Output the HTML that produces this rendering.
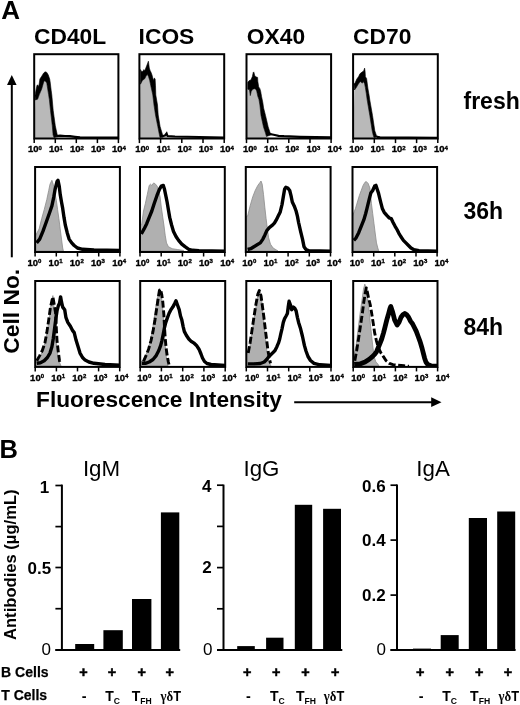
<!DOCTYPE html><html><head><meta charset="utf-8"><title>Figure</title><style>html,body{margin:0;padding:0;background:#fff;}svg{display:block;}</style></head><body>
<svg width="520" height="705" viewBox="0 0 520 705" font-family='"Liberation Sans", Arial, Helvetica, sans-serif'>
<rect width="520" height="705" fill="#fff"/>
<text x="1.3" y="18.9" font-size="26" font-weight="bold">A</text>
<text x="-0.5" y="457.7" font-size="25.5" font-weight="bold">B</text>
<text x="34.0" y="44.2" font-size="22.8" font-weight="bold">CD40L</text>
<text x="138.6" y="44.2" font-size="22.8" font-weight="bold">ICOS</text>
<text x="246.8" y="44.2" font-size="22.8" font-weight="bold">OX40</text>
<text x="353.1" y="44.2" font-size="22.8" font-weight="bold">CD70</text>
<text x="463.5" y="109.3" font-size="23" font-weight="bold">fresh</text>
<text x="463.5" y="219.3" font-size="23" font-weight="bold">36h</text>
<text x="463.5" y="334.9" font-size="23" font-weight="bold">84h</text>
<line x1="11.8" y1="84" x2="11.8" y2="257.3" stroke="#000" stroke-width="2"/>
<polygon points="11.8,75 7,85 16.6,85" fill="#000"/>
<text transform="translate(19.1,353.7) rotate(-90)" font-size="22.8" font-weight="bold">Cell No.</text>
<text x="36.1" y="406.5" font-size="22.7" font-weight="bold">Fluorescence Intensity</text>
<line x1="294.2" y1="402.2" x2="432" y2="402.2" stroke="#000" stroke-width="2"/>
<polygon points="441.5,402.2 431.2,397.3 431.2,407" fill="#000"/>
<clipPath id="c00"><rect x="34.2" y="54.2" width="84.2" height="84.3"/></clipPath>
<g clip-path="url(#c00)">
<polygon points="35.3,100.0 37.6,99.2 39.3,94.6 41.7,88.9 43.7,81.9 44.5,80.8 45.7,81.4 46.8,83.1 47.7,88.9 48.6,94.6 49.4,99.8 50.5,110.4 52.3,125.8 53.1,135.0 54.0,137.5 54.0,139.6 34.2,139.6" fill="#b9b9b9"/>
<polygon points="35.0,95.5 36.2,89.0 37.0,85.4 37.6,84.8 38.8,86.5 39.9,79.0 41.7,76.2 43.7,73.0 45.1,71.8 46.8,72.4 48.3,75.0 49.7,79.0 50.3,83.1 51.2,90.6 51.8,95.0 53.2,110.4 55.3,125.8 57.3,135.0 58.5,136.5 54.0,137.5 53.1,135.0 52.3,125.8 50.5,110.4 49.4,99.8 48.6,94.6 47.7,88.9 46.8,83.1 45.7,81.4 44.5,80.8 43.7,81.9 41.7,88.9 39.3,94.6 37.6,99.2 35.3,100.0" fill="#000" stroke="#000" stroke-width="0.6" stroke-linejoin="round"/>
<polyline points="56.5,136.0 60.0,135.7 65.0,136.0 70.0,136.2 75.0,136.8 80.0,137.3 119.0,137.7" fill="none" stroke="#000" stroke-width="2.2"/>
</g>
<rect x="34.2" y="54.2" width="84.2" height="84.3" fill="none" stroke="#000" stroke-width="2"/>
<line x1="34.2" y1="138.6" x2="34.2" y2="143.1" stroke="#000" stroke-width="1.5"/>
<text x="27.9" y="152.4" font-size="9.5" font-weight="bold" stroke="#000" stroke-width="0.35">10<tspan font-size="6" dy="-2.5">0</tspan></text>
<line x1="55.3" y1="138.6" x2="55.3" y2="143.1" stroke="#000" stroke-width="1.5"/>
<text x="48.9" y="152.4" font-size="9.5" font-weight="bold" stroke="#000" stroke-width="0.35">10<tspan font-size="6" dy="-2.5">1</tspan></text>
<line x1="76.3" y1="138.6" x2="76.3" y2="143.1" stroke="#000" stroke-width="1.5"/>
<text x="69.9" y="152.4" font-size="9.5" font-weight="bold" stroke="#000" stroke-width="0.35">10<tspan font-size="6" dy="-2.5">2</tspan></text>
<line x1="97.4" y1="138.6" x2="97.4" y2="143.1" stroke="#000" stroke-width="1.5"/>
<text x="91.0" y="152.4" font-size="9.5" font-weight="bold" stroke="#000" stroke-width="0.35">10<tspan font-size="6" dy="-2.5">3</tspan></text>
<line x1="118.4" y1="138.6" x2="118.4" y2="143.1" stroke="#000" stroke-width="1.5"/>
<text x="112.0" y="152.4" font-size="9.5" font-weight="bold" stroke="#000" stroke-width="0.35">10<tspan font-size="6" dy="-2.5">4</tspan></text>
<clipPath id="c01"><rect x="139.4" y="54.2" width="84.8" height="84.3"/></clipPath>
<g clip-path="url(#c01)">
<polygon points="140.5,84.2 142.4,80.4 144.7,78.8 146.2,75.8 147.4,74.6 148.5,76.5 149.7,80.4 150.8,85.8 152.0,91.2 152.8,95.0 154.0,105.0 155.5,115.0 157.8,126.5 159.3,134.2 160.0,137.5 160.0,139.6 139.4,139.6" fill="#b9b9b9"/>
<polygon points="140.5,69.6 141.2,71.2 142.8,71.5 143.9,69.6 144.7,70.8 145.8,68.1 147.0,65.0 148.4,61.2 148.9,65.0 149.3,68.1 150.1,70.4 151.2,72.7 152.0,75.0 152.8,78.1 153.5,80.4 154.3,78.1 155.1,78.8 155.5,85.8 155.8,95.0 157.5,105.0 158.2,115.0 160.1,126.5 162.4,134.2 163.5,137.0 160.0,137.5 159.3,134.2 157.8,126.5 155.5,115.0 154.0,105.0 152.8,95.0 152.0,91.2 150.8,85.8 149.7,80.4 148.5,76.5 147.4,74.6 146.2,75.8 144.7,78.8 142.4,80.4 140.5,84.2" fill="#000" stroke="#000" stroke-width="0.6" stroke-linejoin="round"/>
<polyline points="162.0,136.3 165.0,135.5 166.6,133.5 167.5,136.0 175.0,136.5 224.0,137.5" fill="none" stroke="#000" stroke-width="2.2"/>
</g>
<rect x="139.4" y="54.2" width="84.8" height="84.3" fill="none" stroke="#000" stroke-width="2"/>
<line x1="139.4" y1="138.6" x2="139.4" y2="143.1" stroke="#000" stroke-width="1.5"/>
<text x="135.2" y="152.4" font-size="9.5" font-weight="bold" stroke="#000" stroke-width="0.35">10<tspan font-size="6" dy="-2.5">0</tspan></text>
<line x1="160.6" y1="138.6" x2="160.6" y2="143.1" stroke="#000" stroke-width="1.5"/>
<text x="156.4" y="152.4" font-size="9.5" font-weight="bold" stroke="#000" stroke-width="0.35">10<tspan font-size="6" dy="-2.5">1</tspan></text>
<line x1="181.8" y1="138.6" x2="181.8" y2="143.1" stroke="#000" stroke-width="1.5"/>
<text x="177.6" y="152.4" font-size="9.5" font-weight="bold" stroke="#000" stroke-width="0.35">10<tspan font-size="6" dy="-2.5">2</tspan></text>
<line x1="203.0" y1="138.6" x2="203.0" y2="143.1" stroke="#000" stroke-width="1.5"/>
<text x="198.8" y="152.4" font-size="9.5" font-weight="bold" stroke="#000" stroke-width="0.35">10<tspan font-size="6" dy="-2.5">3</tspan></text>
<line x1="224.2" y1="138.6" x2="224.2" y2="143.1" stroke="#000" stroke-width="1.5"/>
<text x="220.0" y="152.4" font-size="9.5" font-weight="bold" stroke="#000" stroke-width="0.35">10<tspan font-size="6" dy="-2.5">4</tspan></text>
<clipPath id="c02"><rect x="246.5" y="54.2" width="84.6" height="84.3"/></clipPath>
<g clip-path="url(#c02)">
<polygon points="247.8,89.2 249.5,89.8 250.3,95.6 251.2,91.5 252.7,89.2 254.4,88.7 255.8,89.2 256.7,91.0 257.8,96.2 259.0,99.6 259.9,105.0 261.0,115.4 263.5,126.9 265.5,133.1 266.5,136.5 266.5,139.6 246.5,139.6" fill="#b9b9b9"/>
<polygon points="247.8,82.3 249.2,80.6 250.9,80.0 252.4,76.5 253.2,72.5 253.8,71.9 254.7,75.4 255.8,76.8 257.6,77.4 257.8,81.2 258.7,86.9 259.9,88.7 260.7,91.5 261.6,96.7 262.8,102.5 263.6,108.0 265.5,115.4 268.2,126.9 270.2,133.1 272.0,134.5 266.5,136.5 265.5,133.1 263.5,126.9 261.0,115.4 259.9,105.0 259.0,99.6 257.8,96.2 256.7,91.0 255.8,89.2 254.4,88.7 252.7,89.2 251.2,91.5 250.3,95.6 249.5,89.8 247.8,89.2" fill="#000" stroke="#000" stroke-width="0.6" stroke-linejoin="round"/>
<polyline points="270.0,134.0 274.8,135.0 278.6,135.8 284.0,136.2 300.0,136.8 331.0,137.3" fill="none" stroke="#000" stroke-width="2.2"/>
</g>
<rect x="246.5" y="54.2" width="84.6" height="84.3" fill="none" stroke="#000" stroke-width="2"/>
<line x1="246.5" y1="138.6" x2="246.5" y2="143.1" stroke="#000" stroke-width="1.5"/>
<text x="242.9" y="152.4" font-size="9.5" font-weight="bold" stroke="#000" stroke-width="0.35">10<tspan font-size="6" dy="-2.5">0</tspan></text>
<line x1="267.7" y1="138.6" x2="267.7" y2="143.1" stroke="#000" stroke-width="1.5"/>
<text x="264.1" y="152.4" font-size="9.5" font-weight="bold" stroke="#000" stroke-width="0.35">10<tspan font-size="6" dy="-2.5">1</tspan></text>
<line x1="288.8" y1="138.6" x2="288.8" y2="143.1" stroke="#000" stroke-width="1.5"/>
<text x="285.2" y="152.4" font-size="9.5" font-weight="bold" stroke="#000" stroke-width="0.35">10<tspan font-size="6" dy="-2.5">2</tspan></text>
<line x1="310.0" y1="138.6" x2="310.0" y2="143.1" stroke="#000" stroke-width="1.5"/>
<text x="306.4" y="152.4" font-size="9.5" font-weight="bold" stroke="#000" stroke-width="0.35">10<tspan font-size="6" dy="-2.5">3</tspan></text>
<line x1="331.1" y1="138.6" x2="331.1" y2="143.1" stroke="#000" stroke-width="1.5"/>
<text x="327.6" y="152.4" font-size="9.5" font-weight="bold" stroke="#000" stroke-width="0.35">10<tspan font-size="6" dy="-2.5">4</tspan></text>
<clipPath id="c03"><rect x="353.1" y="54.2" width="84.7" height="84.3"/></clipPath>
<g clip-path="url(#c03)">
<polygon points="354.5,90.0 356.2,87.7 357.9,84.8 360.2,81.4 361.4,82.5 362.5,83.1 363.4,81.4 364.6,83.7 365.4,87.7 366.3,93.5 367.2,100.0 369.8,115.4 372.2,130.8 373.3,135.4 374.0,137.5 374.0,139.6 353.1,139.6" fill="#b9b9b9"/>
<polygon points="354.0,84.0 355.0,83.1 356.8,79.0 358.5,76.7 359.9,73.8 362.0,72.1 363.7,71.0 364.6,68.1 365.1,71.5 365.4,76.7 366.6,78.5 367.2,83.1 368.0,88.9 369.2,95.8 369.8,100.0 372.5,115.4 374.8,130.8 376.4,135.4 378.5,137.0 374.0,137.5 373.3,135.4 372.2,130.8 369.8,115.4 367.2,100.0 366.3,93.5 365.4,87.7 364.6,83.7 363.4,81.4 362.5,83.1 361.4,82.5 360.2,81.4 357.9,84.8 356.2,87.7 354.5,90.0" fill="#000" stroke="#000" stroke-width="0.6" stroke-linejoin="round"/>
<polyline points="377.0,136.8 380.0,137.3 437.0,137.8" fill="none" stroke="#000" stroke-width="2.2"/>
</g>
<rect x="353.1" y="54.2" width="84.7" height="84.3" fill="none" stroke="#000" stroke-width="2"/>
<line x1="353.1" y1="138.6" x2="353.1" y2="143.1" stroke="#000" stroke-width="1.5"/>
<text x="349.3" y="152.4" font-size="9.5" font-weight="bold" stroke="#000" stroke-width="0.35">10<tspan font-size="6" dy="-2.5">0</tspan></text>
<line x1="374.3" y1="138.6" x2="374.3" y2="143.1" stroke="#000" stroke-width="1.5"/>
<text x="370.5" y="152.4" font-size="9.5" font-weight="bold" stroke="#000" stroke-width="0.35">10<tspan font-size="6" dy="-2.5">1</tspan></text>
<line x1="395.5" y1="138.6" x2="395.5" y2="143.1" stroke="#000" stroke-width="1.5"/>
<text x="391.7" y="152.4" font-size="9.5" font-weight="bold" stroke="#000" stroke-width="0.35">10<tspan font-size="6" dy="-2.5">2</tspan></text>
<line x1="416.6" y1="138.6" x2="416.6" y2="143.1" stroke="#000" stroke-width="1.5"/>
<text x="412.8" y="152.4" font-size="9.5" font-weight="bold" stroke="#000" stroke-width="0.35">10<tspan font-size="6" dy="-2.5">3</tspan></text>
<line x1="437.8" y1="138.6" x2="437.8" y2="143.1" stroke="#000" stroke-width="1.5"/>
<text x="434.0" y="152.4" font-size="9.5" font-weight="bold" stroke="#000" stroke-width="0.35">10<tspan font-size="6" dy="-2.5">4</tspan></text>
<clipPath id="c10"><rect x="35.1" y="167.0" width="84.8" height="85.0"/></clipPath>
<g clip-path="url(#c10)">
<polygon points="35.1,251.0 35.1,238.0 35.1,236.5 39.1,228.9 41.7,218.6 44.2,209.7 46.8,199.5 48.7,190.5 50.0,184.2 51.9,180.3 53.2,184.2 54.4,190.5 56.4,200.8 57.6,209.7 58.9,218.6 60.2,228.9 61.5,239.1 62.7,248.0 63.4,251.0" fill="#b0b0b0" stroke="#8c8c8c" stroke-width="0.8"/>
<polyline points="36.6,242.9 39.7,239.1 42.9,231.4 46.1,222.5 49.3,213.5 51.9,205.9 53.8,196.9 55.1,189.3 57.0,181.6 58.0,180.3 59.3,186.7 60.2,194.4 61.5,202.0 62.7,208.4 64.0,217.4 65.3,225.0 67.2,232.7 69.1,239.1 71.7,242.9 74.2,245.5 77.4,248.0 82.5,249.3 94.0,249.9 120.0,250.5" fill="none" stroke="#000" stroke-width="3.4" stroke-linejoin="round"/>
</g>
<rect x="35.1" y="167.0" width="84.8" height="85.0" fill="none" stroke="#000" stroke-width="2"/>
<line x1="35.1" y1="252.0" x2="35.1" y2="256.5" stroke="#000" stroke-width="1.5"/>
<text x="27.4" y="265.8" font-size="9.5" font-weight="bold" stroke="#000" stroke-width="0.35">10<tspan font-size="6" dy="-2.5">0</tspan></text>
<line x1="56.3" y1="252.0" x2="56.3" y2="256.5" stroke="#000" stroke-width="1.5"/>
<text x="48.6" y="265.8" font-size="9.5" font-weight="bold" stroke="#000" stroke-width="0.35">10<tspan font-size="6" dy="-2.5">1</tspan></text>
<line x1="77.5" y1="252.0" x2="77.5" y2="256.5" stroke="#000" stroke-width="1.5"/>
<text x="69.8" y="265.8" font-size="9.5" font-weight="bold" stroke="#000" stroke-width="0.35">10<tspan font-size="6" dy="-2.5">2</tspan></text>
<line x1="98.7" y1="252.0" x2="98.7" y2="256.5" stroke="#000" stroke-width="1.5"/>
<text x="91.0" y="265.8" font-size="9.5" font-weight="bold" stroke="#000" stroke-width="0.35">10<tspan font-size="6" dy="-2.5">3</tspan></text>
<line x1="119.9" y1="252.0" x2="119.9" y2="256.5" stroke="#000" stroke-width="1.5"/>
<text x="112.2" y="265.8" font-size="9.5" font-weight="bold" stroke="#000" stroke-width="0.35">10<tspan font-size="6" dy="-2.5">4</tspan></text>
<clipPath id="c11"><rect x="140.0" y="167.0" width="84.8" height="85.0"/></clipPath>
<g clip-path="url(#c11)">
<polygon points="140.0,251.0 140.0,226.0 141.6,225.0 143.5,211.0 145.4,203.3 147.3,194.4 149.2,185.4 150.5,184.2 151.8,185.4 153.7,182.9 155.6,184.2 157.5,186.7 160.1,196.9 161.3,207.1 162.6,216.1 163.9,225.0 165.2,235.2 166.5,242.9 168.4,246.7 172.2,248.7 177.3,249.5 182.4,250.3 184.0,251.0" fill="#b0b0b0" stroke="#8c8c8c" stroke-width="0.8"/>
<polyline points="141.3,234.0 144.1,228.9 146.7,223.7 149.2,217.4 151.8,211.0 154.3,203.3 156.9,195.7 159.4,189.3 161.3,186.1 163.3,185.4 164.5,189.3 165.8,195.7 167.1,202.0 168.4,209.7 169.7,217.4 171.6,225.0 173.5,231.4 176.0,236.5 178.6,240.4 181.8,244.2 185.0,246.7 188.8,249.3 192.6,250.3 199.0,250.8 225.0,251.2" fill="none" stroke="#000" stroke-width="3.4" stroke-linejoin="round"/>
</g>
<rect x="140.0" y="167.0" width="84.8" height="85.0" fill="none" stroke="#000" stroke-width="2"/>
<line x1="140.0" y1="252.0" x2="140.0" y2="256.5" stroke="#000" stroke-width="1.5"/>
<text x="135.4" y="265.8" font-size="9.5" font-weight="bold" stroke="#000" stroke-width="0.35">10<tspan font-size="6" dy="-2.5">0</tspan></text>
<line x1="161.2" y1="252.0" x2="161.2" y2="256.5" stroke="#000" stroke-width="1.5"/>
<text x="156.6" y="265.8" font-size="9.5" font-weight="bold" stroke="#000" stroke-width="0.35">10<tspan font-size="6" dy="-2.5">1</tspan></text>
<line x1="182.4" y1="252.0" x2="182.4" y2="256.5" stroke="#000" stroke-width="1.5"/>
<text x="177.8" y="265.8" font-size="9.5" font-weight="bold" stroke="#000" stroke-width="0.35">10<tspan font-size="6" dy="-2.5">2</tspan></text>
<line x1="203.6" y1="252.0" x2="203.6" y2="256.5" stroke="#000" stroke-width="1.5"/>
<text x="199.0" y="265.8" font-size="9.5" font-weight="bold" stroke="#000" stroke-width="0.35">10<tspan font-size="6" dy="-2.5">3</tspan></text>
<line x1="224.8" y1="252.0" x2="224.8" y2="256.5" stroke="#000" stroke-width="1.5"/>
<text x="220.2" y="265.8" font-size="9.5" font-weight="bold" stroke="#000" stroke-width="0.35">10<tspan font-size="6" dy="-2.5">4</tspan></text>
<clipPath id="c12"><rect x="245.8" y="167.0" width="84.8" height="85.0"/></clipPath>
<g clip-path="url(#c12)">
<polygon points="245.8,251.0 245.8,217.0 247.6,216.1 250.1,205.9 252.7,196.9 255.2,190.5 257.8,185.4 259.7,182.9 261.0,181.0 262.2,184.2 263.5,194.4 264.8,207.1 266.1,218.6 267.4,228.9 268.6,237.8 270.5,244.2 273.1,248.0 276.3,249.9 278.0,251.0" fill="#b0b0b0" stroke="#8c8c8c" stroke-width="0.8"/>
<polyline points="247.6,249.5 250.7,248.7 253.9,246.7 257.1,244.8 260.3,242.9 262.9,239.1 264.8,235.2 266.7,230.8 269.3,227.6 271.8,225.7 274.4,223.1 276.3,219.9 278.2,216.1 280.1,212.3 282.0,204.6 283.3,196.9 284.6,189.3 285.9,187.3 287.8,188.0 289.7,190.5 291.0,195.7 292.3,202.0 294.2,205.9 296.1,211.0 297.4,216.1 298.6,222.5 300.6,231.4 302.5,239.1 304.0,246.7 306.0,249.5 309.0,250.8 331.0,251.2" fill="none" stroke="#000" stroke-width="3.4" stroke-linejoin="round"/>
</g>
<rect x="245.8" y="167.0" width="84.8" height="85.0" fill="none" stroke="#000" stroke-width="2"/>
<line x1="245.8" y1="252.0" x2="245.8" y2="256.5" stroke="#000" stroke-width="1.5"/>
<text x="242.3" y="265.8" font-size="9.5" font-weight="bold" stroke="#000" stroke-width="0.35">10<tspan font-size="6" dy="-2.5">0</tspan></text>
<line x1="266.9" y1="252.0" x2="266.9" y2="256.5" stroke="#000" stroke-width="1.5"/>
<text x="263.5" y="265.8" font-size="9.5" font-weight="bold" stroke="#000" stroke-width="0.35">10<tspan font-size="6" dy="-2.5">1</tspan></text>
<line x1="288.1" y1="252.0" x2="288.1" y2="256.5" stroke="#000" stroke-width="1.5"/>
<text x="284.7" y="265.8" font-size="9.5" font-weight="bold" stroke="#000" stroke-width="0.35">10<tspan font-size="6" dy="-2.5">2</tspan></text>
<line x1="309.3" y1="252.0" x2="309.3" y2="256.5" stroke="#000" stroke-width="1.5"/>
<text x="305.9" y="265.8" font-size="9.5" font-weight="bold" stroke="#000" stroke-width="0.35">10<tspan font-size="6" dy="-2.5">3</tspan></text>
<line x1="330.5" y1="252.0" x2="330.5" y2="256.5" stroke="#000" stroke-width="1.5"/>
<text x="327.1" y="265.8" font-size="9.5" font-weight="bold" stroke="#000" stroke-width="0.35">10<tspan font-size="6" dy="-2.5">4</tspan></text>
<clipPath id="c13"><rect x="352.5" y="167.0" width="84.6" height="85.0"/></clipPath>
<g clip-path="url(#c13)">
<polygon points="352.5,251.0 352.5,217.0 352.5,216.1 355.5,208.4 357.4,202.0 359.3,195.7 361.2,190.5 363.1,185.4 365.0,182.2 366.3,181.6 368.2,183.5 369.9,188.0 371.4,203.3 372.7,213.5 374.0,223.7 375.3,234.0 376.5,242.9 377.8,248.0 378.8,251.0" fill="#b0b0b0" stroke="#8c8c8c" stroke-width="0.8"/>
<polyline points="353.8,240.4 356.1,237.8 358.7,232.7 361.2,226.3 363.8,219.9 365.7,213.5 367.0,208.4 368.2,203.3 369.5,198.2 370.8,193.1 372.7,190.5 374.6,186.1 375.9,185.4 377.2,189.3 378.5,193.1 379.7,198.2 381.0,203.3 382.3,208.4 384.2,212.3 386.8,215.4 389.3,218.0 391.2,218.6 393.1,222.5 395.1,226.3 397.0,229.5 398.9,233.3 400.8,236.5 403.4,240.4 405.9,242.9 408.5,245.5 411.0,248.0 414.0,249.7 419.0,250.6 437.0,251.2" fill="none" stroke="#000" stroke-width="3.4" stroke-linejoin="round"/>
</g>
<rect x="352.5" y="167.0" width="84.6" height="85.0" fill="none" stroke="#000" stroke-width="2"/>
<line x1="352.5" y1="252.0" x2="352.5" y2="256.5" stroke="#000" stroke-width="1.5"/>
<text x="349.8" y="265.8" font-size="9.5" font-weight="bold" stroke="#000" stroke-width="0.35">10<tspan font-size="6" dy="-2.5">0</tspan></text>
<line x1="373.7" y1="252.0" x2="373.7" y2="256.5" stroke="#000" stroke-width="1.5"/>
<text x="371.0" y="265.8" font-size="9.5" font-weight="bold" stroke="#000" stroke-width="0.35">10<tspan font-size="6" dy="-2.5">1</tspan></text>
<line x1="394.8" y1="252.0" x2="394.8" y2="256.5" stroke="#000" stroke-width="1.5"/>
<text x="392.1" y="265.8" font-size="9.5" font-weight="bold" stroke="#000" stroke-width="0.35">10<tspan font-size="6" dy="-2.5">2</tspan></text>
<line x1="416.0" y1="252.0" x2="416.0" y2="256.5" stroke="#000" stroke-width="1.5"/>
<text x="413.3" y="265.8" font-size="9.5" font-weight="bold" stroke="#000" stroke-width="0.35">10<tspan font-size="6" dy="-2.5">3</tspan></text>
<line x1="437.1" y1="252.0" x2="437.1" y2="256.5" stroke="#000" stroke-width="1.5"/>
<text x="434.4" y="265.8" font-size="9.5" font-weight="bold" stroke="#000" stroke-width="0.35">10<tspan font-size="6" dy="-2.5">4</tspan></text>
<clipPath id="c20"><rect x="35.2" y="281.0" width="84.5" height="85.9"/></clipPath>
<g clip-path="url(#c20)">
<polygon points="35.2,366.0 35.2,361.0 35.2,360.7 40.4,355.6 42.9,350.5 45.5,340.3 47.4,330.1 49.3,317.3 50.6,307.1 51.9,299.4 52.9,295.6 53.8,304.5 54.7,317.3 55.5,330.1 56.4,342.9 57.6,353.1 58.9,360.7 60.2,364.0 61.0,366.0" fill="#b0b0b0" stroke="#8c8c8c" stroke-width="0.8"/>
<polyline points="36.8,360.7 39.7,355.6 42.3,350.5 44.9,342.9 46.8,332.6 48.7,319.9 50.3,308.4 51.9,300.7 52.9,296.9 54.2,304.5 55.5,312.2 56.0,319.9 56.4,330.1 57.0,340.3 58.3,351.8 59.5,360.7 60.2,364.0" fill="none" stroke="#000" stroke-width="2.9" stroke-dasharray="7,2.6" stroke-linejoin="round"/>
<polyline points="36.8,363.3 40.4,362.7 44.2,360.7 47.4,357.5 50.0,353.1 51.9,346.7 53.2,339.0 54.4,330.1 55.7,319.9 57.0,310.9 58.3,305.8 59.5,303.3 60.6,296.9 61.5,302.0 62.7,307.1 64.7,309.7 65.9,317.3 67.8,322.4 70.4,326.3 72.3,330.1 74.2,332.6 76.1,340.3 78.1,346.7 80.0,353.1 82.5,357.5 85.1,360.1 88.9,362.0 94.0,363.3 105.0,364.5 120.0,365.2" fill="none" stroke="#000" stroke-width="3.4" stroke-linejoin="round"/>
</g>
<rect x="35.2" y="281.0" width="84.5" height="85.9" fill="none" stroke="#000" stroke-width="2"/>
<line x1="35.2" y1="366.9" x2="35.2" y2="371.4" stroke="#000" stroke-width="1.5"/>
<text x="30.1" y="380.7" font-size="9.5" font-weight="bold" stroke="#000" stroke-width="0.35">10<tspan font-size="6" dy="-2.5">0</tspan></text>
<line x1="56.4" y1="366.9" x2="56.4" y2="371.4" stroke="#000" stroke-width="1.5"/>
<text x="51.2" y="380.7" font-size="9.5" font-weight="bold" stroke="#000" stroke-width="0.35">10<tspan font-size="6" dy="-2.5">1</tspan></text>
<line x1="77.5" y1="366.9" x2="77.5" y2="371.4" stroke="#000" stroke-width="1.5"/>
<text x="72.3" y="380.7" font-size="9.5" font-weight="bold" stroke="#000" stroke-width="0.35">10<tspan font-size="6" dy="-2.5">2</tspan></text>
<line x1="98.6" y1="366.9" x2="98.6" y2="371.4" stroke="#000" stroke-width="1.5"/>
<text x="93.4" y="380.7" font-size="9.5" font-weight="bold" stroke="#000" stroke-width="0.35">10<tspan font-size="6" dy="-2.5">3</tspan></text>
<line x1="119.7" y1="366.9" x2="119.7" y2="371.4" stroke="#000" stroke-width="1.5"/>
<text x="114.5" y="380.7" font-size="9.5" font-weight="bold" stroke="#000" stroke-width="0.35">10<tspan font-size="6" dy="-2.5">4</tspan></text>
<clipPath id="c21"><rect x="140.2" y="281.0" width="85.0" height="85.9"/></clipPath>
<g clip-path="url(#c21)">
<polygon points="140.2,366.0 140.2,362.0 142.8,360.7 146.7,353.1 149.9,342.9 152.4,330.1 154.3,317.3 156.2,304.5 158.2,294.3 159.8,288.6 161.3,295.6 162.6,307.1 163.5,319.9 164.3,332.6 165.2,345.4 166.1,355.6 167.1,362.0 168.0,366.0" fill="#b0b0b0" stroke="#8c8c8c" stroke-width="0.8"/>
<polyline points="143.5,361.4 146.0,355.6 148.6,349.2 151.1,340.3 153.0,331.4 155.0,319.9 156.9,307.1 158.2,298.2 159.4,290.5 160.5,289.2 161.7,294.3 162.8,302.0 163.9,314.8 164.5,327.5 165.2,337.7 166.1,348.0 167.4,356.9 168.4,362.0 169.0,364.5" fill="none" stroke="#000" stroke-width="2.9" stroke-dasharray="7,2.6" stroke-linejoin="round"/>
<polyline points="141.8,363.3 145.4,363.3 149.2,362.0 153.0,359.5 156.2,355.6 158.8,350.5 160.7,345.4 162.0,340.3 163.3,333.9 164.5,327.5 165.8,322.4 167.1,318.6 169.0,313.5 170.9,309.7 172.8,307.1 174.8,303.3 176.0,300.7 177.3,304.5 179.2,309.7 180.5,316.0 181.8,319.9 183.1,326.3 184.3,331.4 186.3,335.2 188.8,339.0 191.4,341.6 193.9,342.9 196.5,345.4 199.0,349.2 201.0,354.0 202.5,358.0 204.5,361.5 207.0,363.5 211.0,364.5 225.0,365.5" fill="none" stroke="#000" stroke-width="3.4" stroke-linejoin="round"/>
</g>
<rect x="140.2" y="281.0" width="85.0" height="85.9" fill="none" stroke="#000" stroke-width="2"/>
<line x1="140.2" y1="366.9" x2="140.2" y2="371.4" stroke="#000" stroke-width="1.5"/>
<text x="137.3" y="380.7" font-size="9.5" font-weight="bold" stroke="#000" stroke-width="0.35">10<tspan font-size="6" dy="-2.5">0</tspan></text>
<line x1="161.4" y1="366.9" x2="161.4" y2="371.4" stroke="#000" stroke-width="1.5"/>
<text x="158.6" y="380.7" font-size="9.5" font-weight="bold" stroke="#000" stroke-width="0.35">10<tspan font-size="6" dy="-2.5">1</tspan></text>
<line x1="182.7" y1="366.9" x2="182.7" y2="371.4" stroke="#000" stroke-width="1.5"/>
<text x="179.8" y="380.7" font-size="9.5" font-weight="bold" stroke="#000" stroke-width="0.35">10<tspan font-size="6" dy="-2.5">2</tspan></text>
<line x1="203.9" y1="366.9" x2="203.9" y2="371.4" stroke="#000" stroke-width="1.5"/>
<text x="201.1" y="380.7" font-size="9.5" font-weight="bold" stroke="#000" stroke-width="0.35">10<tspan font-size="6" dy="-2.5">3</tspan></text>
<line x1="225.2" y1="366.9" x2="225.2" y2="371.4" stroke="#000" stroke-width="1.5"/>
<text x="222.3" y="380.7" font-size="9.5" font-weight="bold" stroke="#000" stroke-width="0.35">10<tspan font-size="6" dy="-2.5">4</tspan></text>
<clipPath id="c22"><rect x="246.3" y="281.0" width="84.7" height="85.9"/></clipPath>
<g clip-path="url(#c22)">
<polygon points="246.3,366.0 246.3,356.0 246.3,355.6 250.1,345.4 252.0,332.6 253.9,319.9 255.9,307.1 257.8,295.6 259.3,289.9 260.6,293.0 261.9,302.0 263.1,314.8 264.4,327.5 265.7,340.3 267.0,351.8 268.2,359.5 269.9,364.0 271.0,366.0" fill="#b0b0b0" stroke="#8c8c8c" stroke-width="0.8"/>
<polyline points="248.2,353.1 250.1,342.9 252.0,330.1 253.9,317.3 255.9,304.5 257.8,294.3 259.3,290.5 261.0,295.6 262.2,304.5 263.9,317.3 265.4,330.1 266.7,340.3 268.0,350.5 269.3,358.2 270.5,363.3" fill="none" stroke="#000" stroke-width="2.9" stroke-dasharray="7,2.6" stroke-linejoin="round"/>
<polyline points="247.8,363.9 253.9,363.9 260.3,363.5 264.2,362.0 266.7,359.5 268.6,356.9 270.5,355.0 272.5,353.1 275.0,350.5 276.9,346.7 278.5,342.9 279.7,339.0 280.8,333.9 282.0,328.8 283.3,322.4 284.6,318.6 286.1,316.0 287.4,313.5 288.2,307.1 289.1,301.3 290.3,304.5 291.6,309.7 293.3,307.1 294.8,308.4 296.1,310.9 297.4,317.3 298.6,322.4 300.6,328.8 302.5,336.5 304.4,345.4 306.0,351.0 308.0,356.5 310.5,360.5 314.0,363.3 320.0,364.8 331.0,365.5" fill="none" stroke="#000" stroke-width="3.4" stroke-linejoin="round"/>
</g>
<rect x="246.3" y="281.0" width="84.7" height="85.9" fill="none" stroke="#000" stroke-width="2"/>
<line x1="246.3" y1="366.9" x2="246.3" y2="371.4" stroke="#000" stroke-width="1.5"/>
<text x="245.1" y="380.7" font-size="9.5" font-weight="bold" stroke="#000" stroke-width="0.35">10<tspan font-size="6" dy="-2.5">0</tspan></text>
<line x1="267.5" y1="366.9" x2="267.5" y2="371.4" stroke="#000" stroke-width="1.5"/>
<text x="266.3" y="380.7" font-size="9.5" font-weight="bold" stroke="#000" stroke-width="0.35">10<tspan font-size="6" dy="-2.5">1</tspan></text>
<line x1="288.7" y1="366.9" x2="288.7" y2="371.4" stroke="#000" stroke-width="1.5"/>
<text x="287.5" y="380.7" font-size="9.5" font-weight="bold" stroke="#000" stroke-width="0.35">10<tspan font-size="6" dy="-2.5">2</tspan></text>
<line x1="309.8" y1="366.9" x2="309.8" y2="371.4" stroke="#000" stroke-width="1.5"/>
<text x="308.6" y="380.7" font-size="9.5" font-weight="bold" stroke="#000" stroke-width="0.35">10<tspan font-size="6" dy="-2.5">3</tspan></text>
<line x1="331.0" y1="366.9" x2="331.0" y2="371.4" stroke="#000" stroke-width="1.5"/>
<text x="329.8" y="380.7" font-size="9.5" font-weight="bold" stroke="#000" stroke-width="0.35">10<tspan font-size="6" dy="-2.5">4</tspan></text>
<clipPath id="c23"><rect x="353.2" y="281.0" width="84.3" height="85.9"/></clipPath>
<g clip-path="url(#c23)">
<polygon points="353.2,366.0 353.2,359.0 353.2,358.2 356.1,345.4 358.0,330.1 359.9,314.8 361.9,300.7 363.5,289.2 364.8,284.1 366.1,287.9 367.6,298.2 369.1,310.9 370.4,323.7 371.7,336.5 373.0,348.0 374.2,356.9 375.9,362.0 377.8,364.0 379.0,366.0" fill="#b0b0b0" stroke="#8c8c8c" stroke-width="0.8"/>
<polyline points="354.8,360.7 356.7,350.5 358.7,337.7 360.6,325.0 362.5,312.2 363.8,302.0 365.3,293.0 366.3,287.9 367.3,291.8 368.6,298.2 370.2,304.5 371.7,313.5 373.3,323.7 374.6,332.6 376.3,340.3 378.5,348.0 381.0,353.1 383.6,356.9 386.1,360.7 389.3,363.3 393.0,364.6 398.0,365.3 404.0,365.8 409.0,366.2" fill="none" stroke="#000" stroke-width="2.9" stroke-dasharray="7,2.6" stroke-linejoin="round"/>
<polyline points="354.2,364.3 359.9,363.9 365.0,362.0 368.9,359.5 372.1,356.9 374.6,354.4 376.5,351.8 378.1,348.0 379.7,344.1 381.7,339.0 383.6,332.6 385.2,326.3 386.8,319.9 388.3,314.8 390.0,308.4 390.8,306.5 392.7,312.2 394.6,319.9 397.1,325.0 399.0,322.4 401.0,317.3 402.9,314.8 404.8,313.5 406.7,314.8 408.6,317.3 410.5,321.1 412.5,323.7 414.4,327.5 416.3,331.4 418.2,336.5 420.1,341.6 422.0,348.0 423.3,353.1 424.6,358.2 425.9,362.0 427.8,364.6 431.0,365.8 438.0,366.2" fill="none" stroke="#000" stroke-width="4.8" stroke-linejoin="round"/>
</g>
<rect x="353.2" y="281.0" width="84.3" height="85.9" fill="none" stroke="#000" stroke-width="2"/>
<line x1="353.2" y1="366.9" x2="353.2" y2="371.4" stroke="#000" stroke-width="1.5"/>
<text x="351.2" y="380.7" font-size="9.5" font-weight="bold" stroke="#000" stroke-width="0.35">10<tspan font-size="6" dy="-2.5">0</tspan></text>
<line x1="374.3" y1="366.9" x2="374.3" y2="371.4" stroke="#000" stroke-width="1.5"/>
<text x="372.2" y="380.7" font-size="9.5" font-weight="bold" stroke="#000" stroke-width="0.35">10<tspan font-size="6" dy="-2.5">1</tspan></text>
<line x1="395.4" y1="366.9" x2="395.4" y2="371.4" stroke="#000" stroke-width="1.5"/>
<text x="393.3" y="380.7" font-size="9.5" font-weight="bold" stroke="#000" stroke-width="0.35">10<tspan font-size="6" dy="-2.5">2</tspan></text>
<line x1="416.5" y1="366.9" x2="416.5" y2="371.4" stroke="#000" stroke-width="1.5"/>
<text x="414.4" y="380.7" font-size="9.5" font-weight="bold" stroke="#000" stroke-width="0.35">10<tspan font-size="6" dy="-2.5">3</tspan></text>
<line x1="437.6" y1="366.9" x2="437.6" y2="371.4" stroke="#000" stroke-width="1.5"/>
<text x="435.5" y="380.7" font-size="9.5" font-weight="bold" stroke="#000" stroke-width="0.35">10<tspan font-size="6" dy="-2.5">4</tspan></text>
<text transform="translate(15.9,640.0) rotate(-90)" font-size="16.6" font-weight="bold">Antibodies (µg/mL)</text>
<text x="82.9" y="475.8" font-size="22.3">IgM</text>
<line x1="61.9" y1="484.6" x2="61.9" y2="650.9" stroke="#000" stroke-width="2"/>
<line x1="55.4" y1="485.5" x2="61.9" y2="485.5" stroke="#000" stroke-width="1.7"/>
<line x1="55.4" y1="526.6" x2="61.9" y2="526.6" stroke="#000" stroke-width="1.7"/>
<line x1="55.4" y1="567.5" x2="61.9" y2="567.5" stroke="#000" stroke-width="1.7"/>
<line x1="55.4" y1="608.7" x2="61.9" y2="608.7" stroke="#000" stroke-width="1.7"/>
<line x1="55.4" y1="650.0" x2="61.9" y2="650.0" stroke="#000" stroke-width="1.7"/>
<text x="49.2" y="492.6" font-size="17" font-weight="bold" text-anchor="end">1</text>
<text x="51.2" y="574.0" font-size="17" font-weight="bold" text-anchor="end">0.5</text>
<text x="50.9" y="655.0" font-size="17" font-weight="normal" text-anchor="end">0</text>
<line x1="55.4" y1="650" x2="180.2" y2="650" stroke="#000" stroke-width="2"/>
<rect x="75.2" y="644.0" width="19.0" height="6.0" fill="#000"/>
<rect x="103.4" y="630.2" width="19.4" height="19.8" fill="#000"/>
<rect x="132.0" y="599.0" width="19.4" height="51.0" fill="#000"/>
<rect x="160.9" y="512.4" width="18.4" height="137.6" fill="#000"/>
<text x="83.4" y="677.3" font-size="14.4" font-weight="bold" text-anchor="middle" stroke="#000" stroke-width="0.5">+</text>
<text x="112.0" y="677.3" font-size="14.4" font-weight="bold" text-anchor="middle" stroke="#000" stroke-width="0.5">+</text>
<text x="141.6" y="677.3" font-size="14.4" font-weight="bold" text-anchor="middle" stroke="#000" stroke-width="0.5">+</text>
<text x="169.8" y="677.3" font-size="14.4" font-weight="bold" text-anchor="middle" stroke="#000" stroke-width="0.5">+</text>
<text x="84.2" y="700.8" font-size="14.4" font-weight="bold" text-anchor="middle">-</text>
<text x="112.7" y="700.6" font-size="14" font-weight="bold" text-anchor="middle">T<tspan font-size="8.6" dy="3.2">C</tspan></text>
<text x="141.8" y="700.6" font-size="14" font-weight="bold" text-anchor="middle">T<tspan font-size="8.6" dy="3.2">FH</tspan></text>
<text x="170.8" y="700.6" font-size="14" font-weight="bold" text-anchor="middle" textLength="20.5" lengthAdjust="spacingAndGlyphs"><tspan font-family='"Liberation Serif", serif'>γδ</tspan>T</text>
<text x="243.5" y="475.8" font-size="22.3">IgG</text>
<line x1="223.5" y1="484.6" x2="223.5" y2="650.9" stroke="#000" stroke-width="2"/>
<line x1="217.0" y1="485.2" x2="223.5" y2="485.2" stroke="#000" stroke-width="1.7"/>
<line x1="217.0" y1="526.4" x2="223.5" y2="526.4" stroke="#000" stroke-width="1.7"/>
<line x1="217.0" y1="567.6" x2="223.5" y2="567.6" stroke="#000" stroke-width="1.7"/>
<line x1="217.0" y1="608.8" x2="223.5" y2="608.8" stroke="#000" stroke-width="1.7"/>
<line x1="217.0" y1="650.0" x2="223.5" y2="650.0" stroke="#000" stroke-width="1.7"/>
<text x="211.5" y="491.9" font-size="17" font-weight="bold" text-anchor="end">4</text>
<text x="211.8" y="572.7" font-size="17" font-weight="bold" text-anchor="end">2</text>
<text x="212.4" y="655.3" font-size="17" font-weight="normal" text-anchor="end">0</text>
<line x1="217.0" y1="650" x2="342.3" y2="650" stroke="#000" stroke-width="2"/>
<rect x="237.2" y="646.1" width="17.6" height="3.9" fill="#000"/>
<rect x="266.1" y="637.7" width="17.4" height="12.3" fill="#000"/>
<rect x="294.8" y="504.8" width="17.4" height="145.2" fill="#000"/>
<rect x="323.1" y="508.8" width="17.9" height="141.2" fill="#000"/>
<text x="247.1" y="677.3" font-size="14.4" font-weight="bold" text-anchor="middle" stroke="#000" stroke-width="0.5">+</text>
<text x="276.2" y="677.3" font-size="14.4" font-weight="bold" text-anchor="middle" stroke="#000" stroke-width="0.5">+</text>
<text x="305.5" y="677.3" font-size="14.4" font-weight="bold" text-anchor="middle" stroke="#000" stroke-width="0.5">+</text>
<text x="335.1" y="677.3" font-size="14.4" font-weight="bold" text-anchor="middle" stroke="#000" stroke-width="0.5">+</text>
<text x="248.4" y="700.8" font-size="14.4" font-weight="bold" text-anchor="middle">-</text>
<text x="277.3" y="700.6" font-size="14" font-weight="bold" text-anchor="middle">T<tspan font-size="8.6" dy="3.2">C</tspan></text>
<text x="306.0" y="700.6" font-size="14" font-weight="bold" text-anchor="middle">T<tspan font-size="8.6" dy="3.2">FH</tspan></text>
<text x="334.0" y="700.6" font-size="14" font-weight="bold" text-anchor="middle" textLength="20.5" lengthAdjust="spacingAndGlyphs"><tspan font-family='"Liberation Serif", serif'>γδ</tspan>T</text>
<text x="416.3" y="475.8" font-size="22.3">IgA</text>
<line x1="397.0" y1="484.6" x2="397.0" y2="650.9" stroke="#000" stroke-width="2"/>
<line x1="390.5" y1="485.2" x2="397.0" y2="485.2" stroke="#000" stroke-width="1.7"/>
<line x1="390.5" y1="540.1" x2="397.0" y2="540.1" stroke="#000" stroke-width="1.7"/>
<line x1="390.5" y1="595.1" x2="397.0" y2="595.1" stroke="#000" stroke-width="1.7"/>
<line x1="390.5" y1="650.0" x2="397.0" y2="650.0" stroke="#000" stroke-width="1.7"/>
<text x="385.6" y="491.9" font-size="17" font-weight="bold" text-anchor="end">0.6</text>
<text x="385.6" y="546.4" font-size="17" font-weight="bold" text-anchor="end">0.4</text>
<text x="385.6" y="600.7" font-size="17" font-weight="bold" text-anchor="end">0.2</text>
<text x="385.9" y="655.3" font-size="17" font-weight="normal" text-anchor="end">0</text>
<line x1="390.5" y1="650" x2="515.6" y2="650" stroke="#000" stroke-width="2"/>
<rect x="413.0" y="648.6" width="18.0" height="1.4" fill="#000"/>
<rect x="440.7" y="635.1" width="18.0" height="14.9" fill="#000"/>
<rect x="468.8" y="518.0" width="18.2" height="132.0" fill="#000"/>
<rect x="497.2" y="511.5" width="18.0" height="138.5" fill="#000"/>
<text x="420.2" y="677.3" font-size="14.4" font-weight="bold" text-anchor="middle" stroke="#000" stroke-width="0.5">+</text>
<text x="449.8" y="677.3" font-size="14.4" font-weight="bold" text-anchor="middle" stroke="#000" stroke-width="0.5">+</text>
<text x="479.1" y="677.3" font-size="14.4" font-weight="bold" text-anchor="middle" stroke="#000" stroke-width="0.5">+</text>
<text x="508.0" y="677.3" font-size="14.4" font-weight="bold" text-anchor="middle" stroke="#000" stroke-width="0.5">+</text>
<text x="421.2" y="700.8" font-size="14.4" font-weight="bold" text-anchor="middle">-</text>
<text x="449.6" y="700.6" font-size="14" font-weight="bold" text-anchor="middle">T<tspan font-size="8.6" dy="3.2">C</tspan></text>
<text x="480.1" y="700.6" font-size="14" font-weight="bold" text-anchor="middle">T<tspan font-size="8.6" dy="3.2">FH</tspan></text>
<text x="508.8" y="700.6" font-size="14" font-weight="bold" text-anchor="middle" textLength="20.5" lengthAdjust="spacingAndGlyphs"><tspan font-family='"Liberation Serif", serif'>γδ</tspan>T</text>
<text x="1.1" y="677.1" font-size="14" font-weight="bold" stroke="#000" stroke-width="0.25">B Cells</text>
<text x="1.2" y="700.4" font-size="14" font-weight="bold" stroke="#000" stroke-width="0.25">T Cells</text>
</svg></body></html>
